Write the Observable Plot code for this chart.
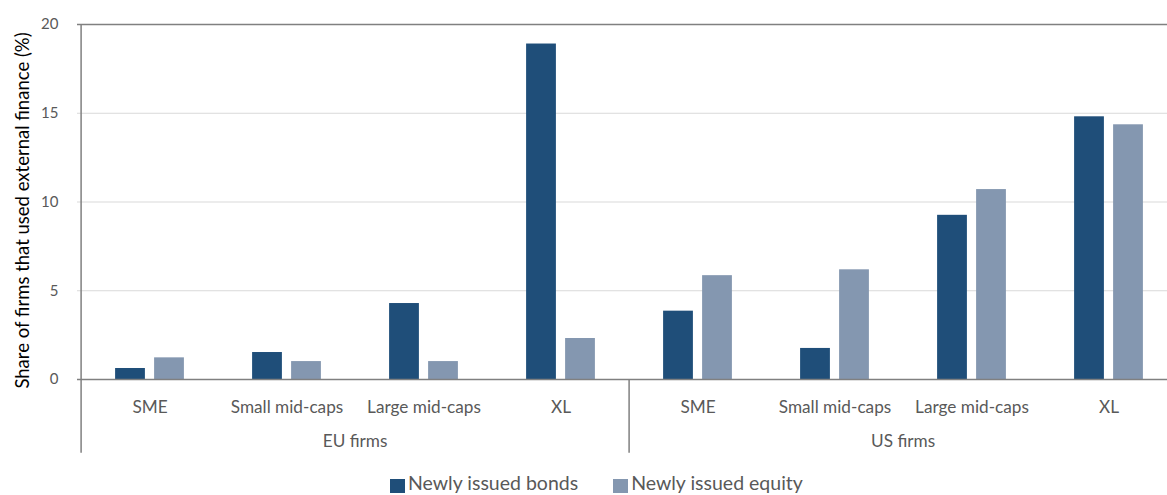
<!DOCTYPE html>
<html>
<head>
<meta charset="utf-8">
<script src="https://cdn.jsdelivr.net/npm/d3@7"></script>
<script src="https://cdn.jsdelivr.net/npm/@observablehq/plot@0.6"></script>
<style>
  html, body { margin: 0; padding: 0; background: #fff; overflow: hidden; }
  #wrap { position: relative; width: 1167px; height: 495px; font-family: Lato, "Open Sans", sans-serif; }
  #legend { position: absolute; left: 390px; top: 471px; display: flex; align-items: center; font-size: 19.5px; line-height: 23px; color: #595959; white-space: nowrap; }
  .sw { display: inline-block; width: 15px; height: 14px; margin-right: 3px; position: relative; top: 3px; }
  .item { display: flex; align-items: center; }
</style>
</head>
<body>
<div id="wrap"><div id="chart"></div><div id="legend"></div></div>
<script>
// ---- data ----
const regions = ["EU firms", "US firms"];
const sizes = ["SME", "Small mid-caps", "Large mid-caps", "XL"];
const bonds  = [0.62, 1.52, 4.28, 18.9, 3.85, 1.75, 9.25, 14.8];
const equity = [1.22, 1.01, 1.01, 2.31, 5.85, 6.18, 10.7, 14.35];
const seriesNames = ["Newly issued bonds", "Newly issued equity"];
const yTicks = [0, 5, 10, 15, 20];
const yTitle = "Share of firms that used external finance (%)";

// ---- styling / layout ----
const colors = ["#1F4E79", "#8497B0"];
const W = 1167, H = 465;
const xRange = [77.3, 1179.7];
const bw = (xRange[1] - xRange[0]) / 8;
const barW = 30.6, gap = 8.4;
const outer = (bw - 2 * barW - gap) / 2;
const axisBottom = -4.15;   // y-value where the category axis lines end
const row1 = -1.55, row2 = -3.52;

const rows = [];
regions.forEach((r, i) => sizes.forEach((s, j) => {
  const k = i * sizes.length + j;
  rows.push({key: `${r}|${s}`, region: r, size: s, bonds: bonds[k], equity: equity[k]});
}));
const keys = rows.map(d => d.key);

const chart = Plot.plot({
  width: W, height: H,
  marginLeft: 77, marginTop: 24, marginRight: 0, marginBottom: 10,
  style: {fontFamily: "Lato, 'Open Sans', sans-serif", color: "#595959", background: "#fff"},
  x: {type: "band", domain: keys, range: xRange, padding: 0, axis: null},
  y: {domain: [0, 20], range: [379, 24], axis: null},
  marks: [
    Plot.ruleY(yTicks.filter(t => t > 0 && t < 20), {stroke: "#D9D9D9", strokeWidth: 1}),
    Plot.ruleY([20], {stroke: "#808080", strokeWidth: 1.3}),
    Plot.barY(rows, {x: "key", y: "bonds", fill: colors[0], insetLeft: outer, insetRight: outer + barW + gap}),
    Plot.barY(rows, {x: "key", y: "equity", fill: colors[1], insetLeft: outer + barW + gap, insetRight: outer}),
    Plot.ruleY([0], {stroke: "#808080", strokeWidth: 1.5}),
    Plot.ruleX([keys[0]], {x: d => d, dx: -bw / 2, y1: 20, y2: axisBottom, stroke: "#808080", strokeWidth: 1.5}),
    Plot.ruleX([keys[sizes.length]], {x: d => d, dx: -bw / 2, y1: 0, y2: axisBottom, stroke: "#808080", strokeWidth: 1.5}),
    Plot.axisY({ticks: yTicks, tickSize: 0, tickPadding: 19, fontSize: 15, label: null, fill: "#595959"}),
    Plot.text(rows, {x: "key", y: () => row1, text: "size", fontSize: 17.2, fill: "#595959", lineAnchor: "middle"}),
    Plot.text(regions, {x: r => `${r}|${sizes[2]}`, dx: -bw / 2, y: () => row2, text: d => d, fontSize: 17.2, fill: "#595959", lineAnchor: "middle"}),
    Plot.text([yTitle], {frameAnchor: "top-left", dx: -54, dy: 186, rotate: -90, textAnchor: "middle", lineAnchor: "middle", fontSize: 18.5, fill: "#000"})
  ]
});
document.getElementById("chart").appendChild(chart);

const legend = document.getElementById("legend");
seriesNames.forEach((n, i) => {
  const it = document.createElement("div");
  it.className = "item";
  if (i > 0) it.style.marginLeft = "35px";
  const sw = document.createElement("span");
  sw.className = "sw"; sw.style.background = colors[i];
  it.appendChild(sw);
  it.appendChild(document.createTextNode(n));
  legend.appendChild(it);
});
</script>
</body>
</html>
